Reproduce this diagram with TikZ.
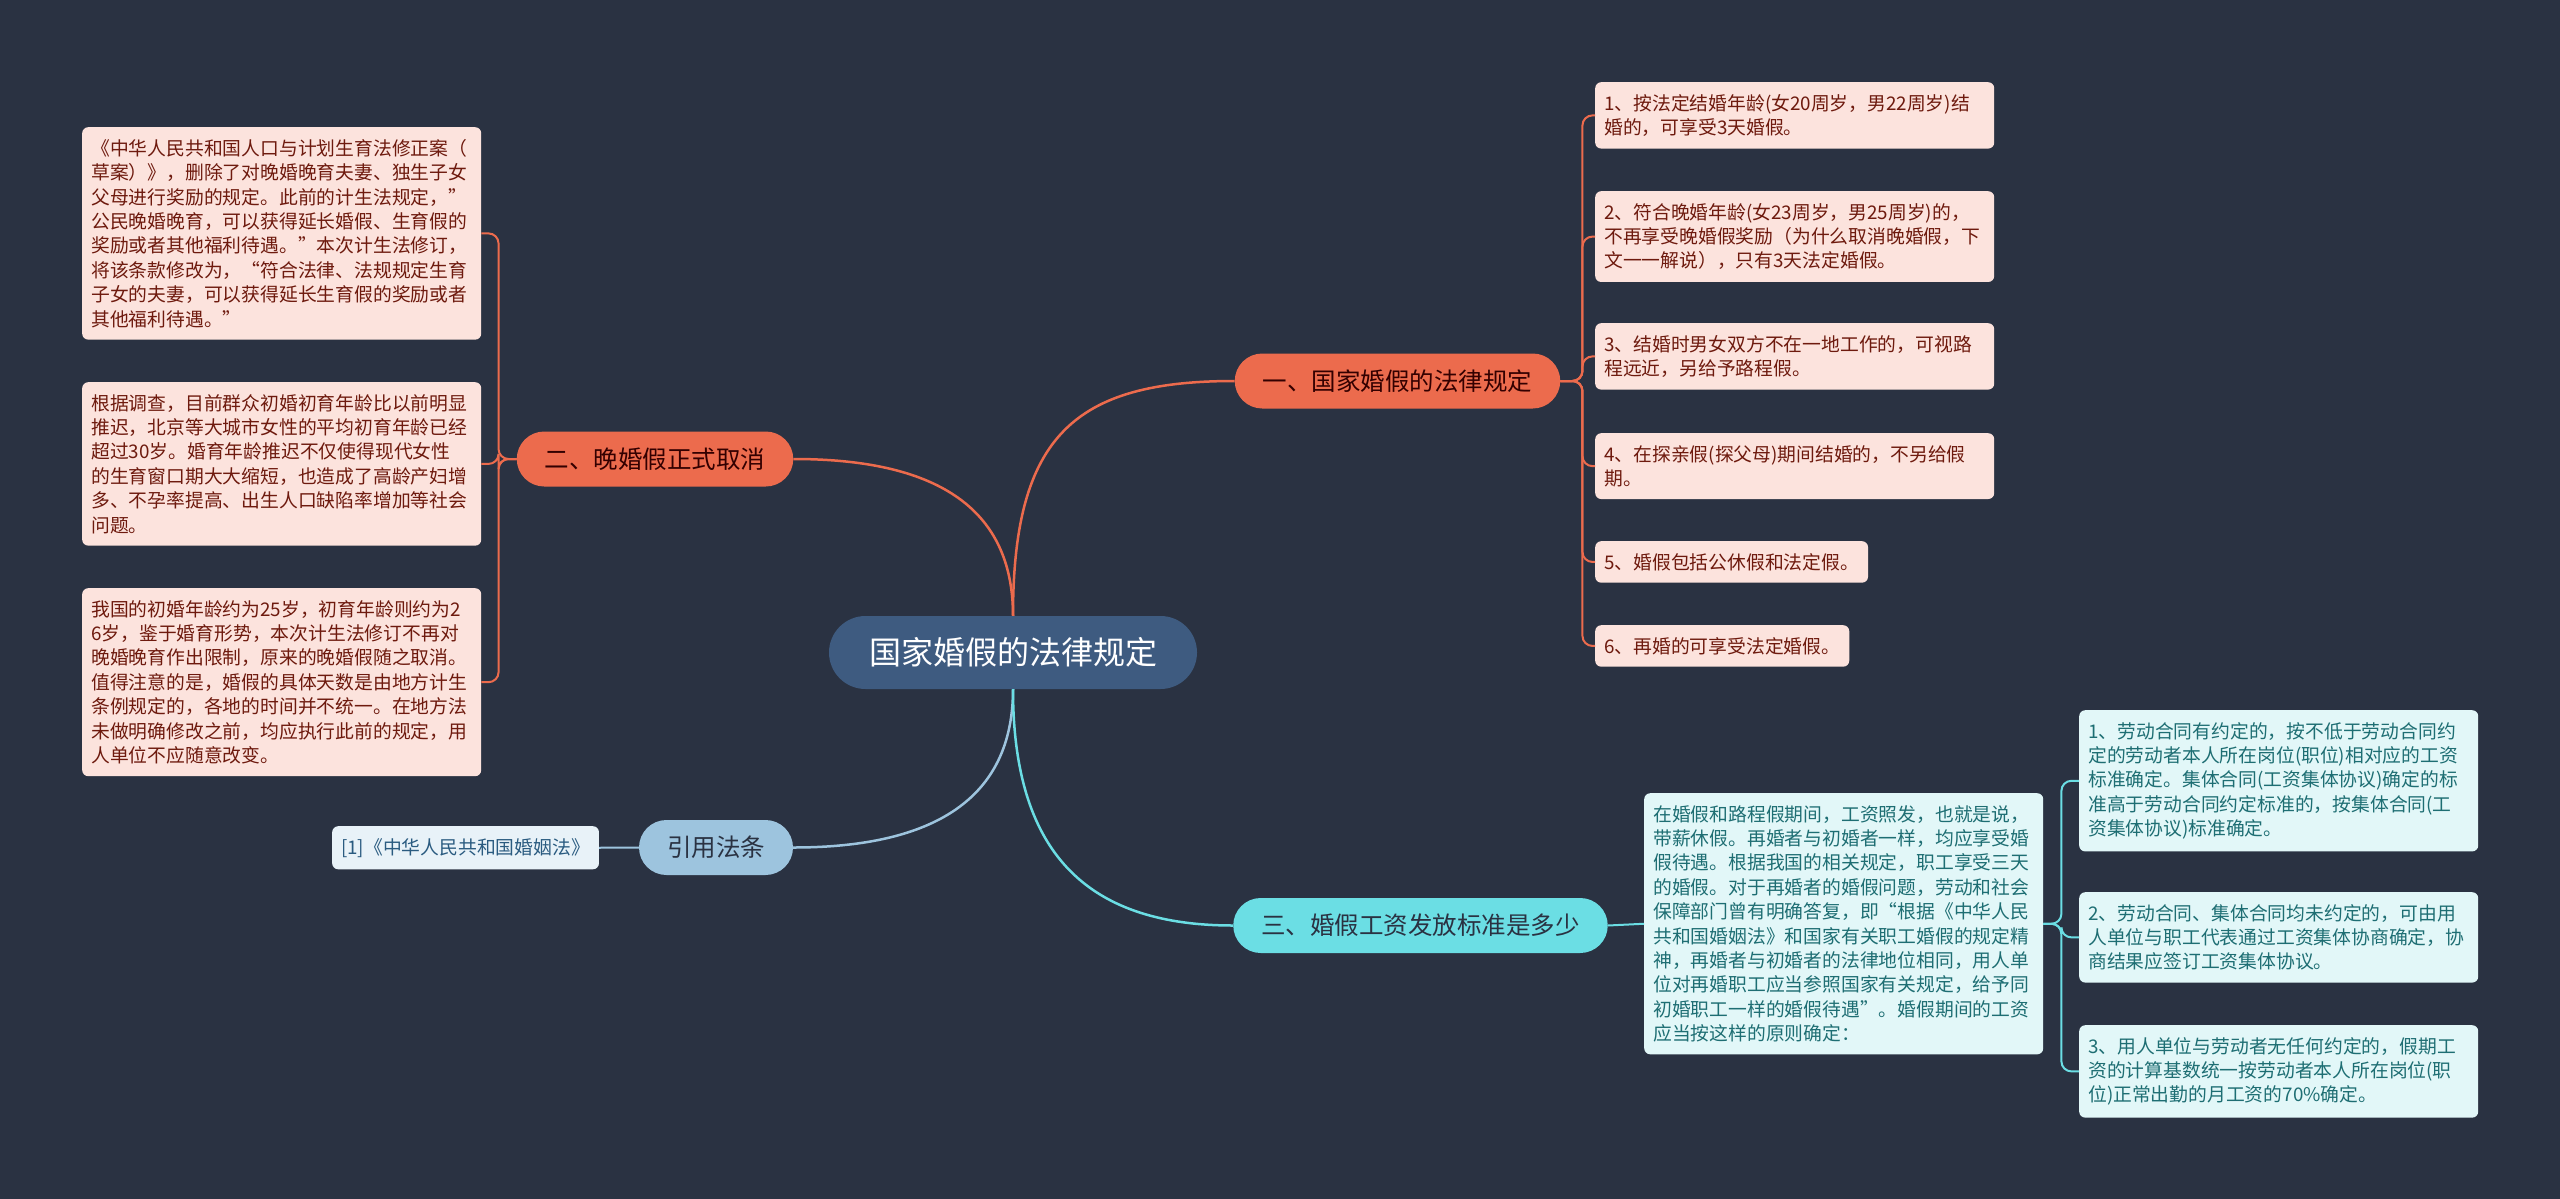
\documentclass[tikz,border=0pt]{standalone}
\usepackage{fontspec}
\setmainfont{Noto Sans CJK SC}
\usepackage{tikz}
\usetikzlibrary{shapes.geometric, arrows}
\definecolor{bgcol}{HTML}{2A3242}
\definecolor{topicblue}{HTML}{3E5B80}
\definecolor{redmain}{HTML}{EC6B4D}
\definecolor{redleaf}{HTML}{FCE3DD}
\definecolor{redtext}{HTML}{6E1A0E}
\definecolor{bluemain}{HTML}{9DC4DE}
\definecolor{blueleaf}{HTML}{E8F2F8}
\definecolor{bluetext}{HTML}{2A5B80}
\definecolor{cyanmain}{HTML}{6BDEE4}
\definecolor{cyanleaf}{HTML}{E2F7F8}
\definecolor{cyantext}{HTML}{1E6E73}
\tikzstyle{topic}    = [rectangle, rounded corners=36.5pt, minimum height=73pt, inner xsep=40pt, fill=topicblue, text=white, font=\fontsize{32pt}{38pt}\selectfont]
\tikzstyle{mainbox}  = [rectangle, rounded corners=27.5pt, minimum height=55pt, inner xsep=28pt, font=\fontsize{24.5pt}{29pt}\selectfont]
\tikzstyle{redbr}    = [mainbox, fill=redmain, text=black!80!red]
\tikzstyle{bluebr}   = [mainbox, fill=bluemain, text=bgcol]
\tikzstyle{cyanbr}   = [mainbox, fill=cyanmain, text=bgcol]
\tikzstyle{leafbox}  = [rectangle, rounded corners=6pt, anchor=north west, inner xsep=9pt, inner ysep=12pt, font=\fontsize{18.8pt}{24.4pt}\selectfont]
\tikzstyle{wide}     = [text width=381pt, align=left]
\tikzstyle{redlf}    = [leafbox, fill=redleaf, text=redtext]
\tikzstyle{bluelf}   = [leafbox, fill=blueleaf, text=bluetext]
\tikzstyle{cyanlf}   = [leafbox, fill=cyanleaf, text=cyantext]
\tikzstyle{redline}  = [draw=redmain, line width=2pt]
\tikzstyle{blueline} = [draw=bluemain, line width=2pt]
\tikzstyle{cyanline} = [draw=cyanmain, line width=2pt]
\begin{document}
\begin{tikzpicture}[x=1pt, y=-1pt]

    \fill [bgcol] (0,0) rectangle (2560,1199);
    \useasboundingbox (0,0) rectangle (2560,1199);

    \node (topic)  [topic]  at (1013,652.5)   {国家婚假的法律规定};

    \node (legal)  [redbr]  at (1397.5,381)   {一、国家婚假的法律规定};
    \node (cancel) [redbr]  at (655,459)      {二、晚婚假正式取消};
    \node (cite)   [bluebr] at (716,847.5)    {引用法条};
    \node (wage)   [cyanbr] at (1420.5,925.5) {三、婚假工资发放标准是多少};

    % 一
    \node (leg1) [redlf, wide] at (1595,82)  {1、按法定结婚年龄(女20周岁，男22周岁)结\\婚的，可享受3天婚假。};
    \node (leg2) [redlf, wide] at (1595,191) {2、符合晚婚年龄(女23周岁，男25周岁)的，\\不再享受晚婚假奖励（为什么取消晚婚假，下\\文一一解说），只有3天法定婚假。};
    \node (leg3) [redlf, wide] at (1595,323) {3、结婚时男女双方不在一地工作的，可视路\\程远近，另给予路程假。};
    \node (leg4) [redlf, wide] at (1595,433) {4、在探亲假(探父母)期间结婚的，不另给假\\期。};
    \node (leg5) [redlf]       at (1595,541) {5、婚假包括公休假和法定假。};
    \node (leg6) [redlf]       at (1595,625) {6、再婚的可享受法定婚假。};

    % 二
    \node (can1) [redlf, wide] at (82,127) {《中华人民共和国人口与计划生育法修正案（\\草案）》，删除了对晚婚晚育夫妻、独生子女\\父母进行奖励的规定。此前的计生法规定，”\\公民晚婚晚育，可以获得延长婚假、生育假的\\奖励或者其他福利待遇。”本次计生法修订，\\将该条款修改为，“符合法律、法规规定生育\\子女的夫妻，可以获得延长生育假的奖励或者\\其他福利待遇。”};
    \node (can2) [redlf, wide] at (82,382) {根据调查，目前群众初婚初育年龄比以前明显\\推迟，北京等大城市女性的平均初育年龄已经\\超过30岁。婚育年龄推迟不仅使得现代女性\\的生育窗口期大大缩短，也造成了高龄产妇增\\多、不孕率提高、出生人口缺陷率增加等社会\\问题。};
    \node (can3) [redlf, wide] at (82,588) {我国的初婚年龄约为25岁，初育年龄则约为2\\6岁，鉴于婚育形势，本次计生法修订不再对\\晚婚晚育作出限制，原来的晚婚假随之取消。\\值得注意的是，婚假的具体天数是由地方计生\\条例规定的，各地的时间并不统一。在地方法\\未做明确修改之前，均应执行此前的规定，用\\人单位不应随意改变。};

    % 引用
    \node (law) [bluelf] at (332,826) {[1]《中华人民共和国婚姻法》};

    % 三
    \node (pay)  [cyanlf, wide] at (1644,793) {在婚假和路程假期间，工资照发，也就是说，\\带薪休假。再婚者与初婚者一样，均应享受婚\\假待遇。根据我国的相关规定，职工享受三天\\的婚假。对于再婚者的婚假问题，劳动和社会\\保障部门曾有明确答复，即“根据《中华人民\\共和国婚姻法》和国家有关职工婚假的规定精\\神，再婚者与初婚者的法律地位相同，用人单\\位对再婚职工应当参照国家有关规定，给予同\\初婚职工一样的婚假待遇”。婚假期间的工资\\应当按这样的原则确定：};
    \node (pay1) [cyanlf, wide] at (2079,710)  {1、劳动合同有约定的，按不低于劳动合同约\\定的劳动者本人所在岗位(职位)相对应的工资\\标准确定。集体合同(工资集体协议)确定的标\\准高于劳动合同约定标准的，按集体合同(工\\资集体协议)标准确定。};
    \node (pay2) [cyanlf, wide] at (2079,892)  {2、劳动合同、集体合同均未约定的，可由用\\人单位与职工代表通过工资集体协商确定，协\\商结果应签订工资集体协议。};
    \node (pay3) [cyanlf, wide] at (2079,1025) {3、用人单位与劳动者无任何约定的，假期工\\资的计算基数统一按劳动者本人所在岗位(职\\位)正常出勤的月工资的70\%确定。};

    \draw [redline, line width=2.5pt]  (topic.north) .. controls +(0,-180) and +(-160,0) .. (legal.west);
    \draw [redline, line width=2.5pt]  (topic.north) .. controls +(0,-110) and +(140,0) .. (cancel.east);
    \draw [blueline, line width=2.5pt] (topic.south) .. controls +(0,110) and +(140,0) .. (cite.east);
    \draw [cyanline, line width=2.5pt] (topic.south) .. controls +(0,160) and +(-150,0) .. (wage.west);

    \foreach \leaf in {leg1,leg2,leg3,leg4,leg5,leg6}
        \draw [redline, rounded corners=10pt] (legal.east) -- ++(22,0) |- (\leaf.west);
    \foreach \leaf in {can1,can2,can3}
        \draw [redline, rounded corners=10pt] (cancel.west) -- ++(-18,0) |- (\leaf.east);
    \draw [blueline] (cite.west) -- (law.east);
    \draw [cyanline] (wage.east) -- (pay.west);
    \foreach \leaf in {pay1,pay2,pay3}
        \draw [cyanline, rounded corners=10pt] (pay.east) -- ++(18,0) |- (\leaf.west);

\end{tikzpicture}
\end{document}
